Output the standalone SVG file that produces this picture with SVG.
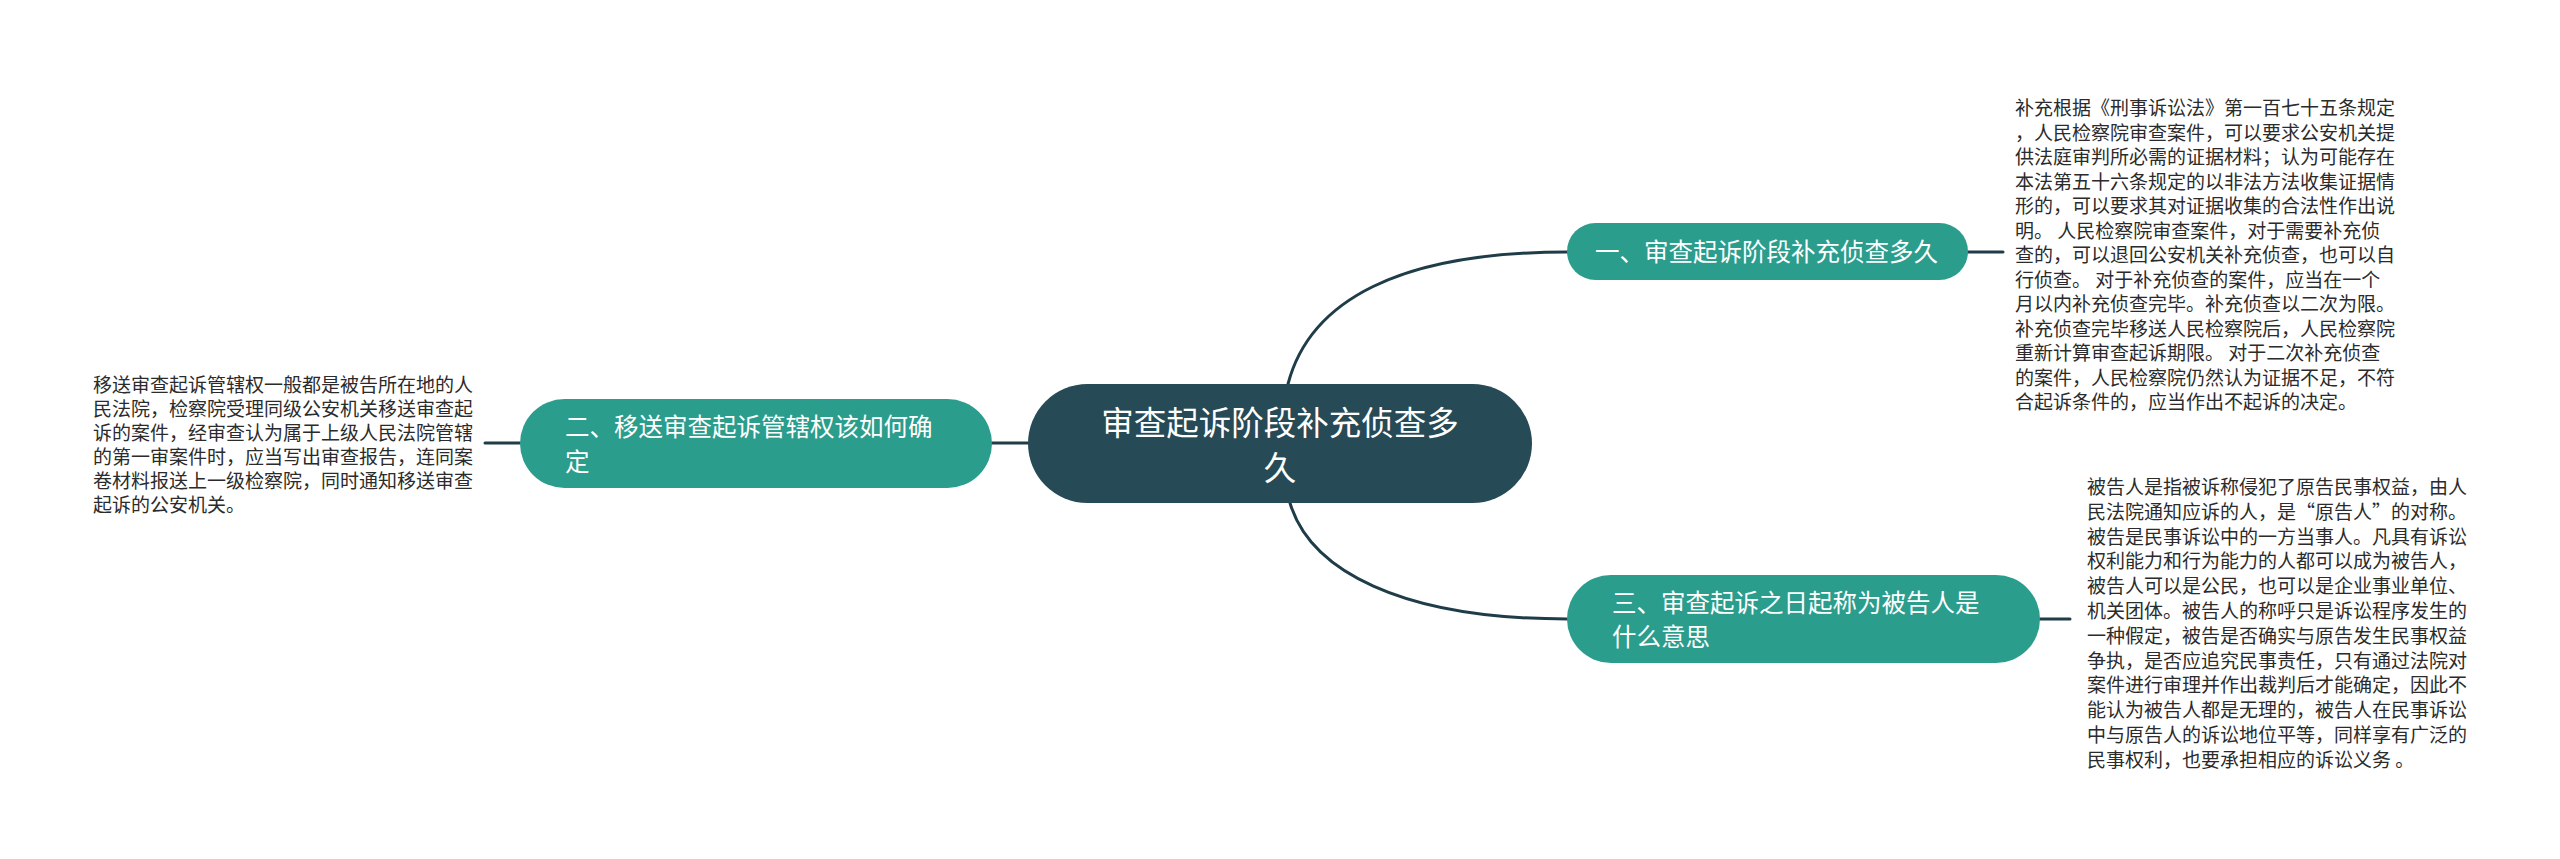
<svg xmlns="http://www.w3.org/2000/svg" width="2560" height="859" viewBox="0 0 2560 859">
<style>
.conn{fill:none;stroke:#1f3d49;stroke-width:3;stroke-linecap:round}
.root{fill:#264a56}
.br{fill:#2a9d8d}
.rt{font-family:"Noto Sans CJK SC","Noto Sans",sans-serif;font-size:32.5px;fill:#ffffff;text-anchor:middle}
.bt{font-family:"Noto Sans CJK SC","Noto Sans",sans-serif;font-size:24.5px;fill:#ffffff}
.lt{font-family:"Noto Sans CJK SC","Noto Sans",sans-serif;font-size:19px;fill:#2b2b2b}
</style>
<rect width="2560" height="859" fill="#ffffff"/>
<g id="connectors">
<path class="conn" d="M1288 384 C1310 300 1400 252 1567 252"/>
<path class="conn" d="M1290 503 C1310 570 1400 619 1567 619"/>
<path class="conn" d="M992 443 L1028 443"/>
<path class="conn" d="M1968 252 L2003 252"/>
<path class="conn" d="M2040 619 L2070 619"/>
<path class="conn" d="M485 443 L520 443"/>
</g>
<g id="root">
<rect class="root" x="1028" y="384" width="504" height="119" rx="59.5"/>
<text class="rt" x="1280" y="435">审查起诉阶段补充侦查多</text>
<text class="rt" x="1280" y="480">久</text>
</g>
<g id="node1">
<rect class="br" x="1567" y="223" width="401" height="57" rx="28.5"/>
<text class="bt" x="1595" y="261">一、审查起诉阶段补充侦查多久</text>
</g>
<g id="node2">
<rect class="br" x="520" y="399" width="472" height="89" rx="44.5"/>
<text class="bt" x="565" y="436">二、移送审查起诉管辖权该如何确</text>
<text class="bt" x="565" y="471">定</text>
</g>
<g id="node3">
<rect class="br" x="1567" y="575" width="473" height="88" rx="44"/>
<text class="bt" x="1612" y="612">三、审查起诉之日起称为被告人是</text>
<text class="bt" x="1612" y="646">什么意思</text>
</g>
<g id="leaf1">
<text class="lt" x="2015" y="115">补充根据《刑事诉讼法》第一百七十五条规定</text>
<text class="lt" x="2015" y="139.5">，人民检察院审查案件，可以要求公安机关提</text>
<text class="lt" x="2015" y="164">供法庭审判所必需的证据材料；认为可能存在</text>
<text class="lt" x="2015" y="188.5">本法第五十六条规定的以非法方法收集证据情</text>
<text class="lt" x="2015" y="213">形的，可以要求其对证据收集的合法性作出说</text>
<text class="lt" x="2015" y="237.5">明。 人民检察院审查案件，对于需要补充侦</text>
<text class="lt" x="2015" y="262">查的，可以退回公安机关补充侦查，也可以自</text>
<text class="lt" x="2015" y="286.5">行侦查。 对于补充侦查的案件，应当在一个</text>
<text class="lt" x="2015" y="311">月以内补充侦查完毕。补充侦查以二次为限。</text>
<text class="lt" x="2015" y="335.5">补充侦查完毕移送人民检察院后，人民检察院</text>
<text class="lt" x="2015" y="360">重新计算审查起诉期限。 对于二次补充侦查</text>
<text class="lt" x="2015" y="384.5">的案件，人民检察院仍然认为证据不足，不符</text>
<text class="lt" x="2015" y="409">合起诉条件的，应当作出不起诉的决定。</text>
</g>
<g id="leaf2">
<text class="lt" x="93" y="392">移送审查起诉管辖权一般都是被告所在地的人</text>
<text class="lt" x="93" y="416">民法院，检察院受理同级公安机关移送审查起</text>
<text class="lt" x="93" y="440">诉的案件，经审查认为属于上级人民法院管辖</text>
<text class="lt" x="93" y="464">的第一审案件时，应当写出审查报告，连同案</text>
<text class="lt" x="93" y="488">卷材料报送上一级检察院，同时通知移送审查</text>
<text class="lt" x="93" y="512">起诉的公安机关。</text>
</g>
<g id="leaf3">
<text class="lt" x="2087" y="494">被告人是指被诉称侵犯了原告民事权益，由人</text>
<text class="lt" x="2087" y="518.8">民法院通知应诉的人，是“原告人”的对称。</text>
<text class="lt" x="2087" y="543.6">被告是民事诉讼中的一方当事人。凡具有诉讼</text>
<text class="lt" x="2087" y="568.4">权利能力和行为能力的人都可以成为被告人，</text>
<text class="lt" x="2087" y="593.2">被告人可以是公民，也可以是企业事业单位、</text>
<text class="lt" x="2087" y="618">机关团体。被告人的称呼只是诉讼程序发生的</text>
<text class="lt" x="2087" y="642.8">一种假定，被告是否确实与原告发生民事权益</text>
<text class="lt" x="2087" y="667.6">争执，是否应追究民事责任，只有通过法院对</text>
<text class="lt" x="2087" y="692.4">案件进行审理并作出裁判后才能确定，因此不</text>
<text class="lt" x="2087" y="717.2">能认为被告人都是无理的，被告人在民事诉讼</text>
<text class="lt" x="2087" y="742">中与原告人的诉讼地位平等，同样享有广泛的</text>
<text class="lt" x="2087" y="766.8">民事权利，也要承担相应的诉讼义务 。</text>
</g>
</svg>
